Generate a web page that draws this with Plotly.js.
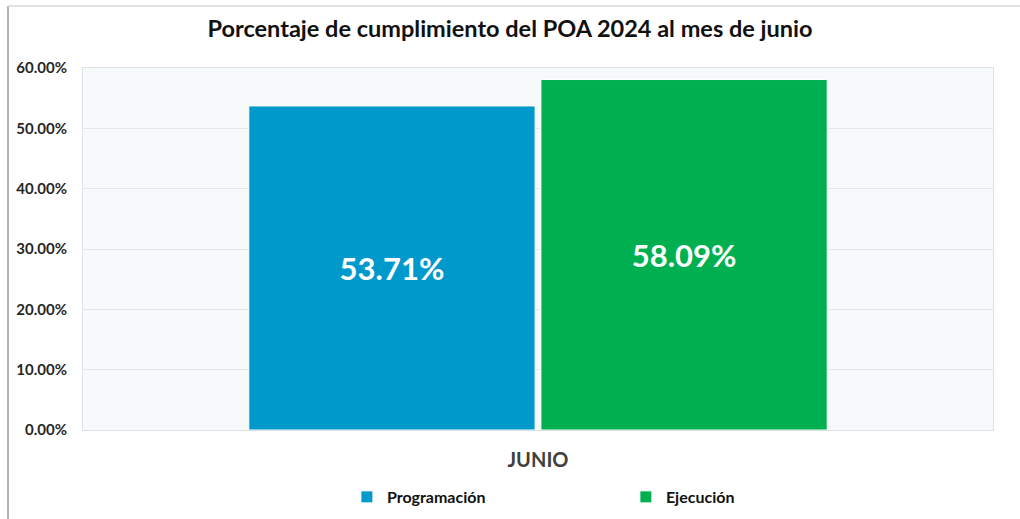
<!DOCTYPE html>
<html><head><meta charset="utf-8">
<script src="https://cdn.plot.ly/plotly-3.0.1.min.js"></script>
<style>html,body{margin:0;padding:0;background:#fff}</style>
</head><body>
<div id="chart" style="width:1020px;height:519px"></div>
<script>
const categories = ["JUNIO"];
const programacion = [0.5371];
const ejecucion = [0.5809];
const seriesNames = ["Programación", "Ejecución"];
const yTicks = [0, 0.1, 0.2, 0.3, 0.4, 0.5, 0.6];

const FONT = "Lato, 'Open Sans', sans-serif";
const mkTrace = (name, y, color) => ({
  type: "bar", name: name, x: categories, y: y,
  marker: {color: color, line: {color: "#ffffff", width: 1}},
  texttemplate: "%{y:.2%}", textposition: "inside", insidetextanchor: "middle",
  textfont: {family: FONT, size: 31, color: "#ffffff", weight: "bold"},
  hoverinfo: "skip"
});
const data = [
  mkTrace(seriesNames[0], programacion, "#0099CC"),
  mkTrace(seriesNames[1], ejecucion, "#00B050")
];
const layout = {
  width: 1020, height: 519,
  margin: {l: 83, r: 27, t: 68, b: 89, autoexpand: false},
  paper_bgcolor: "#ffffff", plot_bgcolor: "#F7FAFB",
  font: {family: FONT, color: "#262626"},
  title: {text: "Porcentaje de cumplimiento del POA 2024 al mes de junio",
          font: {family: FONT, size: 23.5, color: "#111111", weight: "bold"},
          x: 0.5, xanchor: "center", y: 0.945, yanchor: "middle", xref: "container", yref: "container"},
  barmode: "group", bargap: 0.358, bargroupgap: 0.02,
  xaxis: {showgrid: false, showline: true, mirror: true, linecolor: "#DDE2E5", linewidth: 1,
          ticks: "", ticklabelstandoff: 12, automargin: false,
          tickfont: {family: FONT, size: 20, color: "#404040", weight: "bold"}},
  yaxis: {range: [0, 0.6], tickvals: yTicks, tickformat: ".2%", showgrid: true, automargin: false,
          gridcolor: "#E3E8EB", gridwidth: 1, zeroline: false, showline: true, mirror: true,
          linecolor: "#DDE2E5", ticks: "", ticklabelstandoff: 12,
          tickfont: {family: FONT, size: 15, color: "#262626", weight: "bold"}},
  showlegend: true,
  legend: {orientation: "h", x: 0.29, xanchor: "left", y: -0.185, yanchor: "middle",
           entrywidth: 234, entrywidthmode: "pixels", itemwidth: 30,
           font: {family: FONT, size: 16, color: "#111111", weight: "bold"}},
  shapes: [
    {type: "line", xref: "paper", yref: "paper", x0: -0.0824, x1: -0.0824, y0: 1.171, y1: -0.26,
     line: {color: "#9A9A9A", width: 1.5}},
    {type: "line", xref: "paper", yref: "paper", x0: -0.0824, x1: 1.04, y0: 1.171, y1: 1.171,
     line: {color: "#DADADA", width: 1.5}}
  ]
};
Plotly.newPlot("chart", data, layout, {displayModeBar: false, staticPlot: true});
</script>
</body></html>
